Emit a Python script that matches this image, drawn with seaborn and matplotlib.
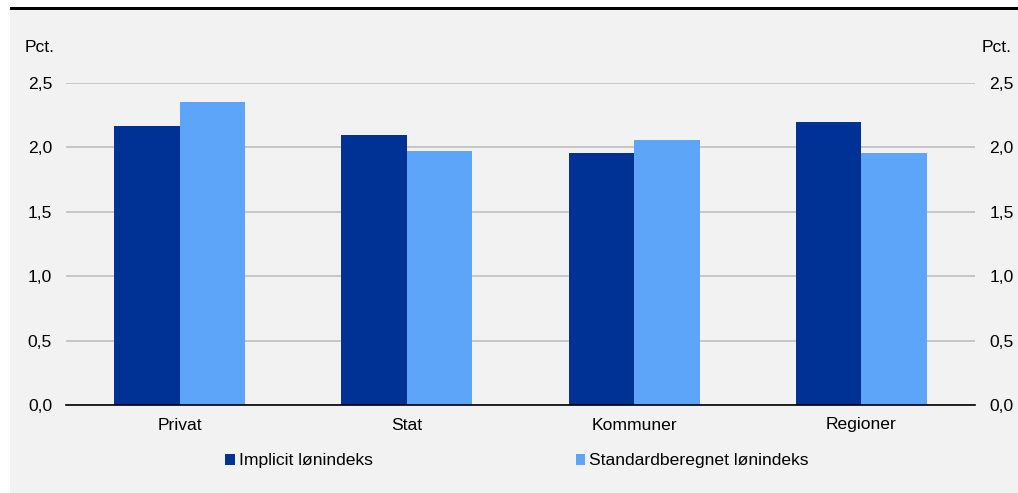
import matplotlib
matplotlib.use("Agg")
import matplotlib.pyplot as plt
import matplotlib.patches as mpatches
import seaborn as sns
import pandas as pd
import numpy as np

# Data
sectors = ["Privat", "Stat", "Kommuner", "Regioner"]
implicit = [2.17, 2.10, 1.96, 2.20]
standard = [2.35, 1.97, 2.06, 1.96]
series_names = ["Implicit lønindeks", "Standardberegnet lønindeks"]
yticks = [0.0, 0.5, 1.0, 1.5, 2.0, 2.5]
ytick_labels = ["0,0", "0,5", "1,0", "1,5", "2,0", "2,5"]

df = pd.DataFrame({
    "sektor": sectors * 2,
    "serie": [series_names[0]] * 4 + [series_names[1]] * 4,
    "værdi": implicit + standard,
})

sns.set_theme(style="white")
plt.rcParams["font.family"] = ["Liberation Sans", "DejaVu Sans"]
plt.rcParams["font.size"] = 12.6
plt.rcParams["text.color"] = "black"
plt.rcParams["xtick.color"] = "black"
plt.rcParams["ytick.color"] = "black"

FS = 12.6
BG = "#f2f2f2"
colors = ["#003296", "#5ca5f8"]

fig = plt.figure(figsize=(10.18, 4.93), dpi=100, facecolor="white")
# grey panel with black top rule
fig.patches.append(mpatches.Rectangle((10 / 1018, 0), 1008 / 1018, 483 / 493,
                                      transform=fig.transFigure, facecolor=BG,
                                      edgecolor="none", zorder=-10))
fig.patches.append(mpatches.Rectangle((10 / 1018, 483 / 493), 1008 / 1018, 3 / 493,
                                      transform=fig.transFigure, facecolor="black",
                                      edgecolor="none", zorder=-10))

ax = fig.add_axes([66 / 1018, 1 - 405 / 493, (975 - 66) / 1018, (405 - 83) / 493])
ax.patch.set_alpha(0)
ax.set_zorder(2)

sns.barplot(data=df, x="sektor", y="værdi", hue="serie", palette=colors,
            width=0.577, gap=0, ax=ax, legend=False, edgecolor="none",
            saturation=1)

ax.set_xlim(-0.5, 3.5)
ax.set_ylim(0, 2.5)
ax.set_xlabel("")
ax.set_ylabel("")
ax.set_yticks(yticks)
ax.set_yticklabels(ytick_labels)
ax.grid(axis="y", color="#bfbfbf", linewidth=1.2)
ax.set_axisbelow(True)
for side in ["left", "right", "top"]:
    ax.spines[side].set_visible(False)
ax.spines["bottom"].set_color("black")
ax.spines["bottom"].set_linewidth(1.2)

ax.tick_params(axis="y", length=0, pad=10, labelsize=FS, colors="black")
ax.tick_params(axis="x", which="major", length=0, pad=9, labelsize=FS, colors="black")
ax.set_xticks(np.arange(-0.5, 4.0, 1.0), minor=True)
ax.tick_params(axis="x", which="minor", length=5, width=1, color="black")

# Mirror y labels on the right side
ax2 = ax.twinx()
ax2.set_zorder(1)
ax2.patch.set_alpha(0)
ax2.set_ylim(0, 2.5)
ax2.set_yticks(yticks)
ax2.set_yticklabels(ytick_labels)
ax2.tick_params(axis="y", length=0, pad=10.5, labelsize=FS, colors="black")
ax2.grid(False)
for side in ["left", "right", "top", "bottom"]:
    ax2.spines[side].set_visible(False)

fig.text(25 / 1018, 1 - 47 / 493, "Pct.", ha="left", va="center", fontsize=FS)
fig.text(1012 / 1018, 1 - 47 / 493, "Pct.", ha="right", va="center", fontsize=FS)

handles = [mpatches.Patch(facecolor=c, edgecolor="none") for c in colors]
fig.legend(handles, series_names, loc="center", bbox_to_anchor=(517 / 1018, 1 - 461 / 493),
           ncol=2, frameon=False, fontsize=FS, handlelength=0.55, handleheight=0.55,
           handletextpad=0.22, columnspacing=11.6)

fig.savefig("out.png", dpi=100, facecolor="white")
